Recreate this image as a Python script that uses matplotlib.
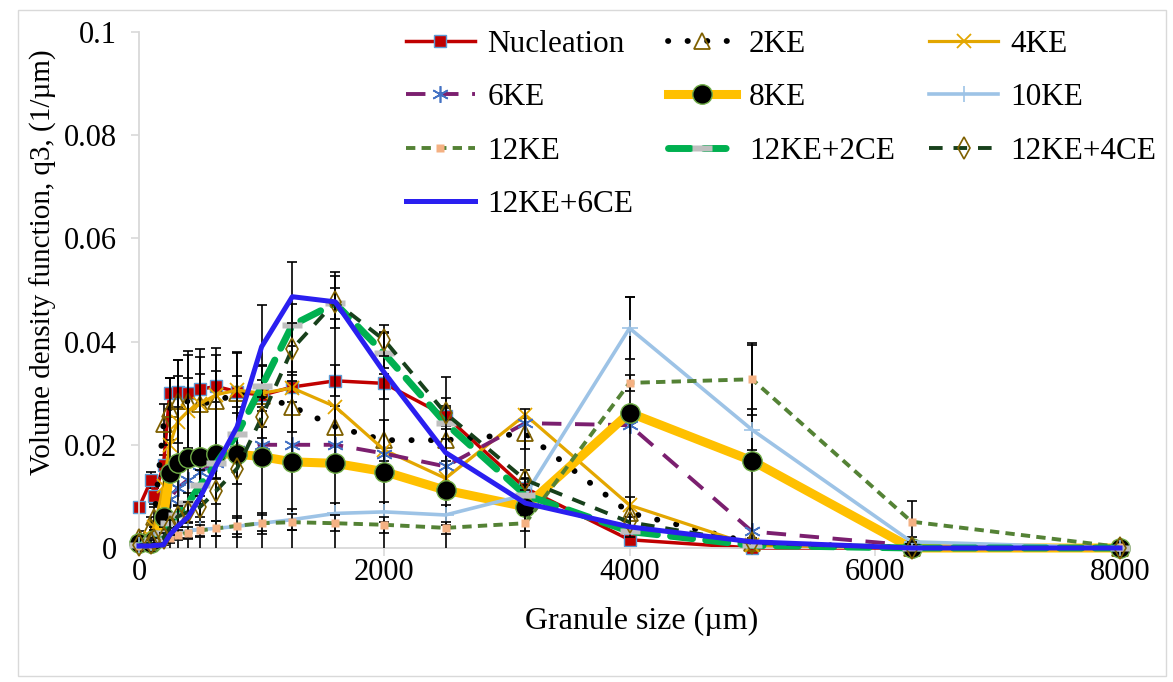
import matplotlib
matplotlib.use("Agg")
import matplotlib.pyplot as plt
from matplotlib.patches import Rectangle
from matplotlib.path import Path

plt.rcParams["font.family"] = ["Liberation Serif", "DejaVu Serif"]

# granule size classes (um)
sizes = [0, 100, 125, 200, 250, 315, 400, 500, 630, 800, 1000, 1250, 1600,
         2000, 2500, 3150, 4000, 5000, 6300, 8000]

nucleation = [0.0079, 0.0132, 0.0101, 0.0161, 0.0300, 0.0303, 0.0300, 0.0308, 0.0313, 0.0303,
              0.0296, 0.0312, 0.0324, 0.0319, 0.0256, 0.0116, 0.0016, 0.0, 0.0, 0.0]
nucleation_err = [0.001, 0.0015, 0.0015, 0.002, 0.003, 0.003, 0.003, 0.003, 0.003, 0.003,
                  0.003, 0.003, 0.003, 0.003, 0.002, 0.002, 0.001, 0.0, 0.0, 0.0]

ke2 = [0.0022, 0.004, 0.006, 0.024, 0.027, 0.0284, 0.0284, 0.028, 0.0284, 0.030,
       0.0295, 0.0274, 0.0235, 0.0209, 0.0209, 0.0222, 0.0068, 0.001, 0.0, 0.0]
ke2_err = [0.001, 0.002, 0.002, 0.004, 0.006, 0.008, 0.009, 0.009, 0.009, 0.008,
           0.006, 0.005, 0.004, 0.004, 0.004, 0.003, 0.003, 0.001, 0.0, 0.0]

ke4 = [0.001, 0.002, 0.004, 0.012, 0.020, 0.0245, 0.0265, 0.028, 0.0297, 0.0306,
       0.0300, 0.031, 0.0274, 0.019, 0.0135, 0.0258, 0.0083, 0.0005, 0.0, 0.0]

ke6 = [0.0008, 0.001, 0.002, 0.006, 0.0095, 0.0116, 0.0132, 0.0148, 0.0165, 0.019,
       0.020, 0.020, 0.020, 0.0183, 0.0158, 0.0242, 0.0238, 0.0032, 0.0005, 0.0]

ke8 = [0.001, 0.001, 0.0015, 0.006, 0.0145, 0.0164, 0.0174, 0.0176, 0.0182, 0.0182,
       0.0177, 0.0167, 0.0164, 0.0148, 0.0112, 0.008, 0.0262, 0.0169, 0.0, 0.0]
ke8_err = [0.001, 0.001, 0.002, 0.008, 0.0184, 0.020, 0.0208, 0.021, 0.0205, 0.0195,
           0.0294, 0.0387, 0.037, 0.027, 0.022, 0.019, 0.0225, 0.0225, 0.0, 0.0]

ke10 = [0.0005, 0.001, 0.0015, 0.002, 0.0028, 0.003, 0.0033, 0.0036, 0.0038, 0.0042,
        0.0048, 0.0055, 0.0067, 0.007, 0.0064, 0.0103, 0.0426, 0.0229, 0.0012, 0.0]
ke10_err = [0.0, 0.0005, 0.0005, 0.001, 0.001, 0.001, 0.0015, 0.0015, 0.0015, 0.002,
            0.002, 0.002, 0.002, 0.002, 0.002, 0.003, 0.006, 0.004, 0.001, 0.0]

ke12 = [0.0003, 0.0005, 0.001, 0.0015, 0.002, 0.0025, 0.003, 0.0034, 0.0038, 0.0043,
        0.0048, 0.005, 0.0048, 0.0045, 0.0039, 0.0048, 0.032, 0.0327, 0.0051, 0.0002]
ke12_err = [0.0, 0.0005, 0.0005, 0.001, 0.001, 0.001, 0.001, 0.001, 0.0015, 0.0015,
            0.0015, 0.0015, 0.0015, 0.0015, 0.0012, 0.0015, 0.0015, 0.007, 0.004, 0.0]

ce2 = [0.0005, 0.001, 0.0015, 0.003, 0.0048, 0.0064, 0.0087, 0.0122, 0.0164, 0.0221,
       0.0313, 0.0432, 0.0474, 0.0377, 0.0242, 0.0103, 0.0032, 0.0005, 0.0, 0.0]
ce2_err = [0.0, 0.0005, 0.0005, 0.001, 0.0015, 0.002, 0.002, 0.003, 0.003, 0.004,
           0.004, 0.004, 0.003, 0.004, 0.003, 0.002, 0.001, 0.0, 0.0, 0.0]

ce4 = [0.0005, 0.001, 0.0015, 0.002, 0.004, 0.0061, 0.007, 0.008, 0.0111, 0.0154,
       0.0253, 0.0386, 0.0477, 0.0403, 0.0261, 0.0132, 0.0050, 0.001, 0.0, 0.0]
ce4_err = [0.0, 0.0005, 0.0005, 0.001, 0.0015, 0.002, 0.002, 0.002, 0.0025, 0.003,
           0.004, 0.005, 0.005, 0.003, 0.003, 0.002, 0.001, 0.0, 0.0, 0.0]

ce6 = [0.0004, 0.0004, 0.0005, 0.0006, 0.0025, 0.0042, 0.006, 0.0099, 0.016, 0.0235,
       0.039, 0.0487, 0.0477, 0.034, 0.0185, 0.0087, 0.0041, 0.0012, 0.0, 0.0]

# wide flat rectangle marker
rect_wide = Path([(-1, -0.35), (1, -0.35), (1, 0.35), (-1, 0.35), (-1, -0.35)],
                 [Path.MOVETO, Path.LINETO, Path.LINETO, Path.LINETO, Path.CLOSEPOLY])

series = [
    ("Nucleation", nucleation, nucleation_err,
     dict(color="#C00000", lw=2.5, marker="s", ms=9, mfc="#C00000", mec="#5B9BD5", mew=1.0)),
    ("2KE", ke2, ke2_err,
     dict(color="black", lw=4.2, ls=(0, (0.05, 3.3)), dash_capstyle="round",
          marker="^", ms=11, mfc="none", mec="#7F6000", mew=1.3)),
    ("4KE", ke4, None,
     dict(color="#E3A600", lw=2.3, marker="x", ms=10, mec="#E3A600", mew=1.3)),
    ("6KE", ke6, None,
     dict(color="#7B1F6F", lw=2.8, ls=(0, (5, 3.5)), marker=(6, 2, 0), ms=12,
          mec="#4472C4", mew=1.2)),
    ("8KE", ke8, ke8_err,
     dict(color="#FFC000", lw=6.5, marker="o", ms=14, mfc="black", mec="#70AD47", mew=1.0)),
    ("10KE", ke10, ke10_err,
     dict(color="#9DC3E6", lw=2.6, marker="+", ms=11, mec="#9DC3E6", mew=1.2)),
    ("12KE", ke12, ke12_err,
     dict(color="#548235", lw=2.8, ls=(0, (2.4, 1.6)), marker="s", ms=6,
          mfc="#F4B183", mec="none")),
    ("12KE+2CE", ce2, ce2_err,
     dict(color="#00B050", lw=5.0, ls=(0, (3.2, 1.9)), dash_capstyle="round",
          marker=rect_wide, ms=14, mfc="#BFBFBF", mec="none")),
    ("12KE+4CE", ce4, ce4_err,
     dict(color="#17401B", lw=2.8, ls=(0, (3.5, 2.8)), marker="d", ms=11,
          mfc="none", mec="#7F6000", mew=1.2)),
    ("12KE+6CE", ce6, None,
     dict(color="#2A1FF0", lw=3.6)),
]

fig = plt.figure(figsize=(11.73, 6.82), dpi=100)
ax = fig.add_axes([139 / 1173, 134 / 682, (1120 - 139) / 1173, (548 - 32) / 682])

handles = []
z = 2
for name, vals, err, style in series:
    if err is not None:
        ax.errorbar(sizes, vals, yerr=err, fmt="none", ecolor="black",
                    elinewidth=1.2, capsize=3.8, capthick=1.2, zorder=z)
    h, = ax.plot(sizes, vals, label=name, clip_on=False, zorder=z + 0.5, **style)
    handles.append(h)
    z += 1

ax.set_xlim(0, 8000)
ax.set_ylim(0, 0.1)
ax.set_xticks([0, 2000, 4000, 6000, 8000])
ax.set_yticks([0, 0.02, 0.04, 0.06, 0.08, 0.1])
ax.set_yticklabels(["0", "0.02", "0.04", "0.06", "0.08", "0.1"])

for side in ["top", "right"]:
    ax.spines[side].set_visible(False)
for side in ["left", "bottom"]:
    ax.spines[side].set_color("#D9D9D9")
    ax.spines[side].set_linewidth(1.3)
ax.tick_params(axis="y", direction="out", length=6, color="#D9D9D9", width=1.2,
               labelsize=22, pad=10)
ax.tick_params(axis="x", direction="out", length=6, color="#D9D9D9", width=1.2,
               labelsize=22, pad=1)

fig.text(642 / 1173, 1 - 621 / 682, "Granule size (\u00b5m)", fontsize=23,
         ha="center", va="center")
fig.text(43 / 1173, 1 - 262 / 682, "Volume density function, q3, (1/\u00b5m)",
         fontsize=21, rotation=90, ha="center", va="center")

# legend filled row by row, as in the original
order = [0, 3, 6, 9, 1, 4, 7, 2, 5, 8]
ax.legend([handles[i] for i in order], [series[i][0] for i in order],
          loc="upper left", bbox_to_anchor=(406 / 1173, 1 - 30 / 682),
          bbox_transform=fig.transFigure, ncol=3, frameon=False, fontsize=22.5,
          handlelength=2.2, handletextpad=0.4, columnspacing=1.1,
          labelspacing=0.78, borderpad=0, borderaxespad=0)

fig.patches.append(Rectangle((18 / 1173, 6 / 682), (1166 - 18) / 1173, (672 - 6) / 682,
                             transform=fig.transFigure, fill=False,
                             edgecolor="#D9D9D9", lw=1.0))

fig.savefig("out.png", dpi=100)
